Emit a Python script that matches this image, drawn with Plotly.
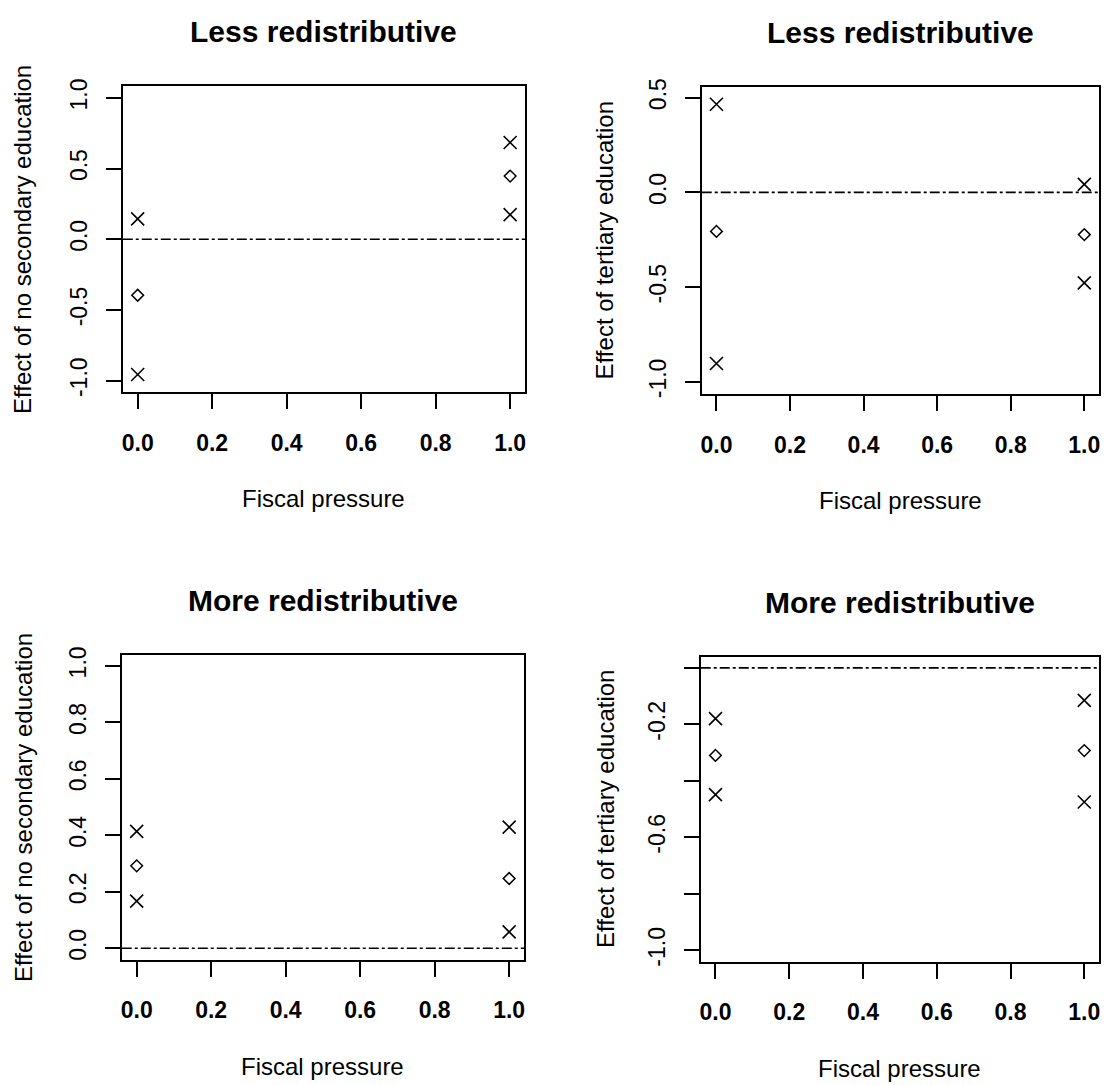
import plotly.graph_objects as go

W, H = 1106, 1085

# ---- data ----
fiscal_pressure = [0.0, 1.0]

less_nosec_est = [-0.396, 0.447]
less_nosec_lo = [-0.956, 0.174]
less_nosec_hi = [0.144, 0.684]

less_tert_est = [-0.206, -0.223]
less_tert_lo = [-0.903, -0.478]
less_tert_hi = [0.465, 0.042]

more_nosec_est = [0.292, 0.247]
more_nosec_lo = [0.167, 0.058]
more_nosec_hi = [0.414, 0.429]

more_tert_est = [-0.310, -0.293]
more_tert_lo = [-0.449, -0.475]
more_tert_hi = [-0.180, -0.115]

x_ticks = [0.0, 0.2, 0.4, 0.6, 0.8, 1.0]
x_ticktext = ["0.0", "0.2", "0.4", "0.6", "0.8", "1.0"]

p1_yticks = [-1.0, -0.5, 0.0, 0.5, 1.0]
p1_yticktext = ["-1.0", "-0.5", "0.0", "0.5", "1.0"]
p2_yticks = [-1.0, -0.5, 0.0, 0.5]
p2_yticktext = ["-1.0", "-0.5", "0.0", "0.5"]
p3_yticks = [0.0, 0.2, 0.4, 0.6, 0.8, 1.0]
p3_yticktext = ["0.0", "0.2", "0.4", "0.6", "0.8", "1.0"]
p4_yticks = [0.0, -0.2, -0.4, -0.6, -0.8, -1.0]
p4_yticktext = ["", "-0.2", "", "-0.6", "", "-1.0"]

titles = ["Less redistributive", "Less redistributive",
          "More redistributive", "More redistributive"]
ylabels = ["Effect of no secondary education", "Effect of tertiary education",
           "Effect of no secondary education", "Effect of tertiary education"]
xlabel = "Fiscal pressure"

# ---- layout geometry (pixels) ----
boxes = [  # left, right, top, bottom
    (122, 525, 78, 388),
    (702, 1100, 79, 390),
    (121, 524, 654, 963),
    (701, 1100, 656, 965),
]
yranges = [(-1.08, 1.084), (-1.064, 0.556), (-0.04, 1.04), (-1.04, 0.04)]
xrange_ = (-0.04, 1.04)

panels = [
    (less_nosec_est, less_nosec_lo, less_nosec_hi, p1_yticks, p1_yticktext),
    (less_tert_est, less_tert_lo, less_tert_hi, p2_yticks, p2_yticktext),
    (more_nosec_est, more_nosec_lo, more_nosec_hi, p3_yticks, p3_yticktext),
    (more_tert_est, more_tert_lo, more_tert_hi, p4_yticks, p4_yticktext),
]

FONT = "Liberation Sans, Arial, sans-serif"
fig = go.Figure()
layout = {}
annotations = []
shapes = []

cross = dict(symbol="x-thin-open", size=13, color="black",
             line=dict(width=1.6, color="black"))
diamond = dict(symbol="diamond-open", size=9, color="black",
               line=dict(width=1.5, color="black"))

for i, (est, lo, hi, yt, ytt) in enumerate(panels):
    n = i + 1
    xa = "x" if n == 1 else f"x{n}"
    ya = "y" if n == 1 else f"y{n}"
    l, r, t, b = boxes[i]
    xdom = [l / W, r / W]
    ydom = [1 - b / H, 1 - t / H]

    fig.add_trace(go.Scatter(x=fiscal_pressure, y=hi, mode="markers", xaxis=xa, yaxis=ya,
                             marker=cross, showlegend=False, hoverinfo="skip"))
    fig.add_trace(go.Scatter(x=fiscal_pressure, y=est, mode="markers", xaxis=xa, yaxis=ya,
                             marker=diamond, showlegend=False, hoverinfo="skip"))
    fig.add_trace(go.Scatter(x=fiscal_pressure, y=lo, mode="markers", xaxis=xa, yaxis=ya,
                             marker=cross, showlegend=False, hoverinfo="skip"))

    axcommon = dict(showgrid=False, zeroline=False, showline=True, mirror=True,
                    linecolor="black", linewidth=2, ticks="outside", ticklen=15,
                    tickwidth=2, tickcolor="black")
    layout["xaxis" if n == 1 else f"xaxis{n}"] = dict(
        domain=xdom, range=list(xrange_), anchor=ya, tickmode="array",
        tickvals=x_ticks, ticktext=x_ticktext, ticklabelstandoff=14,
        tickfont=dict(family=FONT, size=23, color="black", weight="bold"), **axcommon)
    layout["yaxis" if n == 1 else f"yaxis{n}"] = dict(
        domain=ydom, range=list(yranges[i]), anchor=xa, tickmode="array",
        tickvals=yt, ticktext=ytt, tickangle=-90, ticklabelstandoff=10,
        tickfont=dict(family=FONT, size=23, color="black"), **axcommon)

    # zero reference line (dash-dot)
    shapes.append(dict(type="line", xref=f"{xa} domain", yref=ya, x0=0, x1=1, y0=0, y1=0,
                       line=dict(color="black", width=1.6, dash="10px,3px,3px,3px")))

    cx = (l + r) / 2
    title_y = t - 55
    annotations.append(dict(text=f"<b>{titles[i]}</b>", x=cx / W, y=1 - title_y / H,
                            xref="paper", yref="paper", showarrow=False,
                            xanchor="center", yanchor="middle",
                            font=dict(family=FONT, size=30, color="black")))
    xl_y = b + 108
    annotations.append(dict(text=xlabel, x=cx / W, y=1 - xl_y / H,
                            xref="paper", yref="paper", showarrow=False,
                            xanchor="center", yanchor="middle",
                            font=dict(family=FONT, size=24, color="black")))
    yl_x = 22 if i % 2 == 0 else 605
    cy = (t + b) / 2
    annotations.append(dict(text=ylabels[i], x=yl_x / W, y=1 - cy / H,
                            xref="paper", yref="paper", showarrow=False, textangle=-90,
                            xanchor="center", yanchor="middle",
                            font=dict(family=FONT, size=24, color="black")))

fig.update_layout(
    width=W, height=H, margin=dict(l=0, r=0, t=0, b=0),
    paper_bgcolor="white", plot_bgcolor="white", hovermode=False,
    annotations=annotations, shapes=shapes, **layout)

fig.write_html("out.html", config={"displayModeBar": False},
               post_script="document.body.style.margin='0px';")
